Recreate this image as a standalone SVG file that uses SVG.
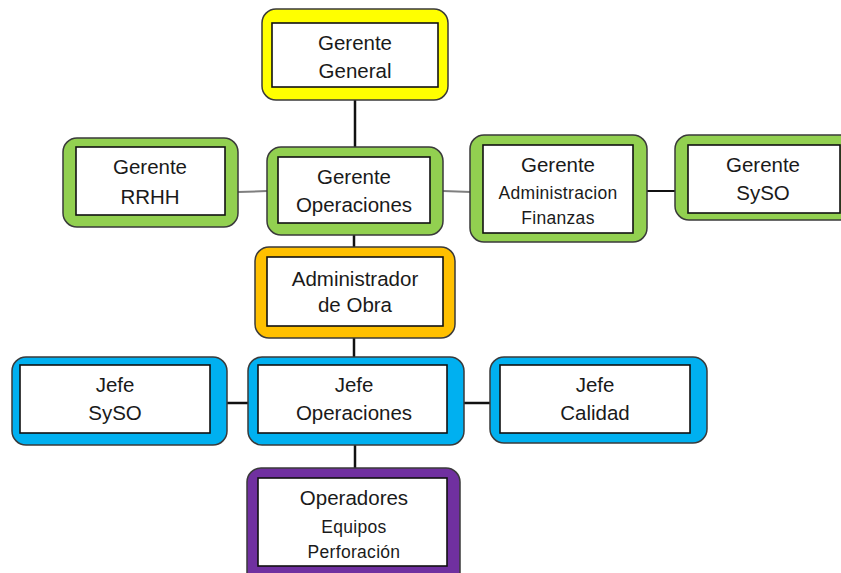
<svg xmlns="http://www.w3.org/2000/svg" width="841" height="573" viewBox="0 0 841 573">
<style>
.outer{stroke:#3a3a3a;stroke-width:1.5}
.inner{fill:#ffffff;stroke:#111111;stroke-width:1.6}
.yellow{fill:#FFFF00}
.green{fill:#92D050}
.orange{fill:#FFC000}
.blue{fill:#00B0F0}
.purple{fill:#7030A0}
text{font-family:"Liberation Sans","Open Sans",sans-serif;fill:#1a1a1a;text-anchor:middle}
.t{font-size:20.5px}
.s{font-size:17.5px;letter-spacing:0.3px}
.c{stroke:#111111;stroke-width:2.5;fill:none}
.g{stroke:#7f7f7f;stroke-width:2;fill:none}
</style>
<rect width="841" height="573" fill="#ffffff"/>
<g id="connectors">
<line class="c" x1="355" y1="100" x2="355" y2="148"/>
<line class="c" x1="354" y1="235" x2="354" y2="248"/>
<line class="c" x1="354" y1="338" x2="354" y2="358"/>
<line class="c" x1="355" y1="445" x2="355" y2="469"/>
<line class="g" x1="238" y1="192" x2="267" y2="191"/>
<line class="g" x1="443" y1="191" x2="471" y2="192"/>
<line class="c" style="stroke-width:2" x1="647" y1="191" x2="676" y2="191"/>
<line class="c" x1="227" y1="403" x2="249" y2="403"/>
<line class="c" x1="464" y1="403" x2="491" y2="403"/>
</g>
<g id="gerente-general">
<rect class="outer yellow" x="262" y="9" width="186" height="91" rx="14"/>
<rect class="inner" x="272" y="23" width="166" height="64"/>
<text class="t" x="355" y="50">Gerente</text>
<text class="t" x="355" y="78">General</text>
</g>
<g id="gerente-rrhh">
<rect class="outer green" x="63" y="138" width="175" height="89" rx="14"/>
<rect class="inner" x="76" y="147" width="149" height="68"/>
<text class="t" x="150" y="174">Gerente</text>
<text class="t" x="150" y="204">RRHH</text>
</g>
<g id="gerente-operaciones">
<rect class="outer green" x="267" y="147" width="176" height="88" rx="14"/>
<rect class="inner" x="278" y="157" width="152" height="66"/>
<text class="t" x="354" y="184">Gerente</text>
<text class="t" x="354" y="212">Operaciones</text>
</g>
<g id="gerente-administracion-finanzas">
<rect class="outer green" x="470" y="135" width="177" height="107" rx="14"/>
<rect class="inner" x="483" y="145" width="150" height="88"/>
<text class="t" x="558" y="172">Gerente</text>
<text class="s" x="558" y="199">Administracion</text>
<text class="s" x="558" y="224">Finanzas</text>
</g>
<g id="gerente-syso">
<rect class="outer green" x="675" y="135" width="185" height="85" rx="14"/>
<rect class="inner" x="688" y="145" width="152" height="68"/>
<text class="t" x="763" y="172">Gerente</text>
<text class="t" x="763" y="200">SySO</text>
</g>
<g id="administrador-obra">
<rect class="outer orange" x="255" y="247" width="200" height="91" rx="14"/>
<rect class="inner" x="267" y="257" width="176" height="69"/>
<text class="t" x="355" y="286">Administrador</text>
<text class="t" x="355" y="312">de Obra</text>
</g>
<g id="jefe-syso">
<rect class="outer blue" x="12" y="357" width="215" height="88" rx="14"/>
<rect class="inner" x="20" y="365" width="190" height="68"/>
<text class="t" x="115" y="392">Jefe</text>
<text class="t" x="115" y="420">SySO</text>
</g>
<g id="jefe-operaciones">
<rect class="outer blue" x="248" y="357" width="216" height="88" rx="14"/>
<rect class="inner" x="258" y="365" width="189" height="68"/>
<text class="t" x="354" y="392">Jefe</text>
<text class="t" x="354" y="420">Operaciones</text>
</g>
<g id="jefe-calidad">
<rect class="outer blue" x="490" y="357" width="217" height="86" rx="14"/>
<rect class="inner" x="500" y="365" width="190" height="68"/>
<text class="t" x="595" y="392">Jefe</text>
<text class="t" x="595" y="420">Calidad</text>
</g>
<g id="operadores">
<rect class="outer purple" x="247" y="468" width="213" height="120" rx="14"/>
<rect class="inner" x="258" y="478" width="189" height="88"/>
<text class="t" x="354" y="505">Operadores</text>
<text class="s" x="354" y="533">Equipos</text>
<text class="s" x="354" y="558">Perforación</text>
</g>
</svg>
